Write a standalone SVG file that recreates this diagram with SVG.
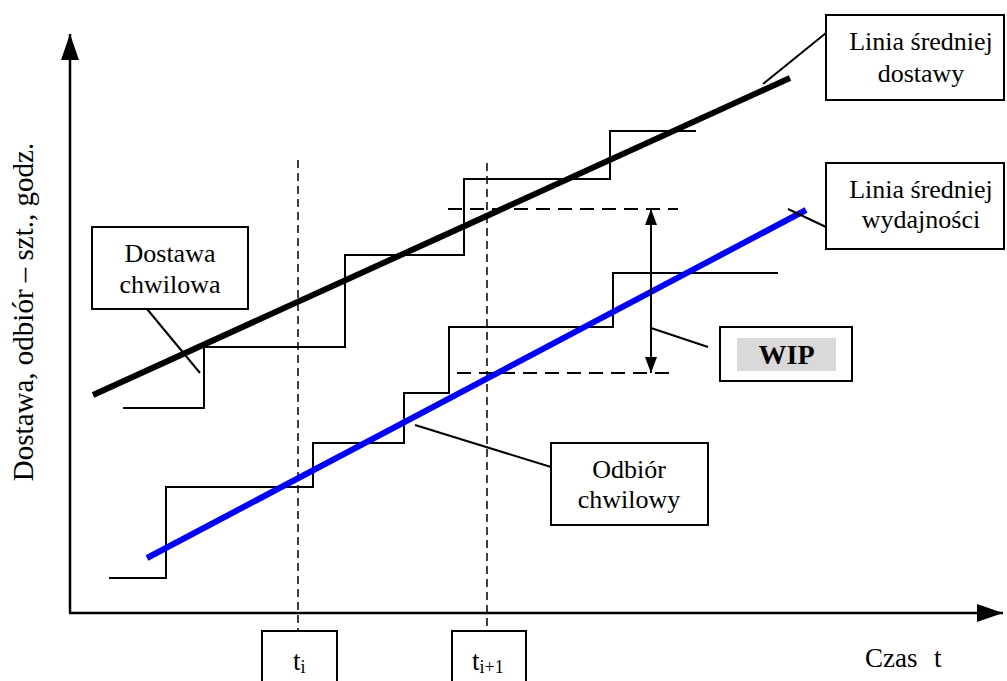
<svg xmlns="http://www.w3.org/2000/svg" width="1007" height="681" viewBox="0 0 1007 681">
  <style>
    .txt { font-family: "Liberation Serif", "Times New Roman", serif; font-size: 26px; fill: #000; }
    .box { fill: #fff; stroke: #000; stroke-width: 2; }
    .step { fill: none; stroke: #000; stroke-width: 2; stroke-linejoin: miter; }
    .leader { fill: none; stroke: #000; stroke-width: 2; }
    .axis { fill: none; stroke: #000; stroke-width: 2.5; }
    .vdash { fill: none; stroke: #000; stroke-width: 1.5; stroke-dasharray: 8 5; }
    .hdash { fill: none; stroke: #000; stroke-width: 1.8; stroke-dasharray: 14 8; }
  </style>
  <defs>
    <marker id="axisHead" markerWidth="26" markerHeight="18" refX="26" refY="9" orient="auto" markerUnits="userSpaceOnUse">
      <path d="M0,0 L26,9 L0,18 Z" fill="#000"/>
    </marker>
    <marker id="wipHead" markerWidth="16" markerHeight="12" refX="16" refY="6" orient="auto" markerUnits="userSpaceOnUse">
      <path d="M0,0 L16,6 L0,12 Z" fill="#000"/>
    </marker>
  </defs>
  <rect width="1007" height="681" fill="#fff"/>

  <g id="connectors">
    <!-- axes -->
    <line class="axis" x1="70" y1="613" x2="70" y2="34" marker-end="url(#axisHead)"/>
    <line class="axis" x1="69" y1="613" x2="1003" y2="613" marker-end="url(#axisHead)"/>

    <!-- time markers -->
    <line class="vdash" x1="298" y1="160" x2="298" y2="630"/>
    <line class="vdash" x1="487" y1="163" x2="487" y2="630"/>

    <!-- WIP level references -->
    <line class="hdash" x1="448" y1="209" x2="678" y2="209"/>
    <line class="hdash" x1="457" y1="373" x2="670" y2="373"/>

    <!-- instantaneous delivery (staircase) -->
    <polyline class="step" points="123,408 204,408 204,347 345,347 345,255 464,255 464,179 610,179 610,131 696,131"/>
    <!-- instantaneous withdrawal (staircase) -->
    <polyline class="step" points="109,578 166,578 166,487 313,487 313,443 404,443 404,393 449,393 449,327 613,327 613,273 778,273"/>

    <!-- average lines -->
    <line x1="93" y1="395" x2="790" y2="78" stroke="#000" stroke-width="6"/>
    <line x1="147" y1="558" x2="806" y2="210" stroke="#0000ff" stroke-width="6"/>

    <!-- WIP double arrow -->
    <line x1="651" y1="291" x2="651" y2="209" stroke="#000" stroke-width="2" marker-end="url(#wipHead)"/>
    <line x1="651" y1="291" x2="651" y2="373" stroke="#000" stroke-width="2" marker-end="url(#wipHead)"/>

    <!-- label leaders -->
    <line class="leader" x1="826" y1="33" x2="763" y2="84"/>
    <line class="leader" x1="826" y1="227" x2="788" y2="209"/>
    <line class="leader" x1="708" y1="347" x2="651" y2="328"/>
    <line class="leader" x1="147" y1="309" x2="200" y2="373"/>
    <line class="leader" x1="551" y1="467" x2="415" y2="425"/>
  </g>

  <g id="label-avg-delivery">
    <rect class="box" x="826" y="15" width="178" height="85"/>
    <text class="txt" x="921" y="50" text-anchor="middle">Linia średniej</text>
    <text class="txt" x="921" y="82" text-anchor="middle">dostawy</text>
  </g>

  <g id="label-avg-output">
    <rect class="box" x="826" y="163" width="178" height="86"/>
    <text class="txt" x="921" y="198" text-anchor="middle">Linia średniej</text>
    <text class="txt" x="921" y="228" text-anchor="middle">wydajności</text>
  </g>

  <g id="label-delivery">
    <rect class="box" x="92" y="227" width="156" height="82"/>
    <text class="txt" x="170" y="262" text-anchor="middle">Dostawa</text>
    <text class="txt" x="170" y="293" text-anchor="middle">chwilowa</text>
  </g>

  <g id="label-withdrawal">
    <rect class="box" x="551" y="443" width="157" height="82"/>
    <text class="txt" x="629" y="478" text-anchor="middle">Odbiór</text>
    <text class="txt" x="629" y="508" text-anchor="middle">chwilowy</text>
  </g>

  <g id="label-wip">
    <rect class="box" x="720" y="327" width="132" height="54"/>
    <rect x="737" y="338" width="99" height="33" fill="#d9d9d9"/>
    <text class="txt" x="786.5" y="364" text-anchor="middle" style="font-weight:bold;font-size:28px">WIP</text>
  </g>

  <g id="label-ti">
    <rect class="box" x="262" y="631" width="75" height="60"/>
    <text class="txt" x="293" y="670" style="font-size:27px">t<tspan style="font-size:18px" dy="3">i</tspan></text>
  </g>

  <g id="label-ti1">
    <rect class="box" x="452" y="631" width="74" height="60"/>
    <text class="txt" x="472" y="670" style="font-size:27px">t<tspan style="font-size:18px" dy="3">i+1</tspan></text>
  </g>

  <g id="axis-labels">
    <text class="txt" x="865" y="667" style="font-size:27px">Czas</text>
    <text class="txt" x="934" y="667" style="font-size:27px">t</text>
    <text class="txt" transform="translate(33,312) rotate(-90)" text-anchor="middle" style="font-size:29px">Dostawa, odbiór – szt., godz.</text>
  </g>
</svg>
